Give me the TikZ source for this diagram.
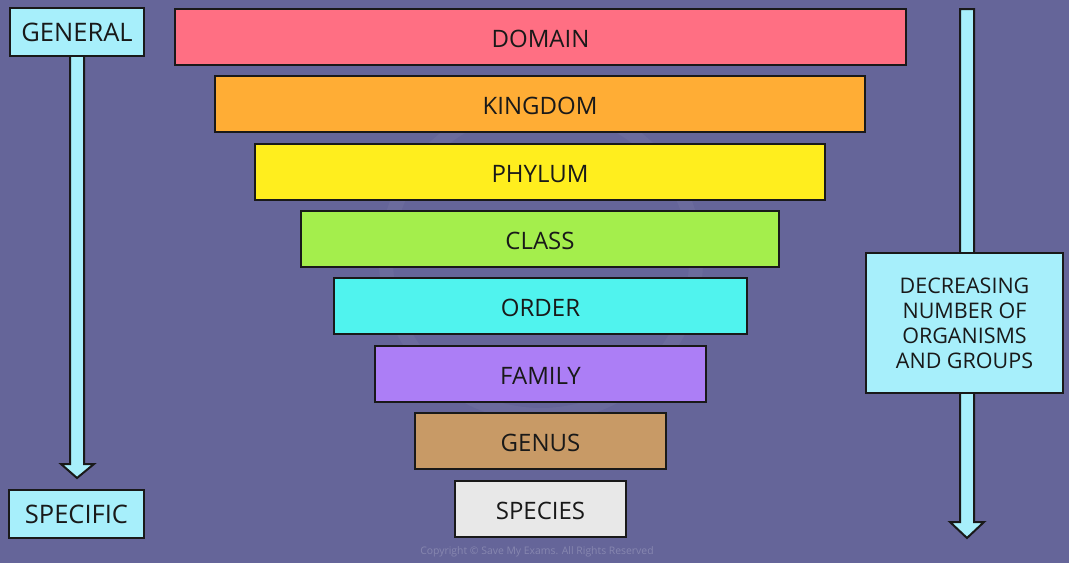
\documentclass[tikz,border=0pt]{standalone}
\usepackage{fontspec}
\setmainfont{Open Sans}
\usetikzlibrary{calc}
\definecolor{bgc}{RGB}{101,101,153}
\definecolor{lblue}{RGB}{167,239,251}
\definecolor{cdomain}{RGB}{255,111,131}
\definecolor{ckingdom}{RGB}{255,173,53}
\definecolor{cphylum}{RGB}{255,238,30}
\definecolor{cclass}{RGB}{164,238,76}
\definecolor{corder}{RGB}{80,243,238}
\definecolor{cfamily}{RGB}{172,126,246}
\definecolor{cgenus}{RGB}{200,154,102}
\definecolor{cspecies}{RGB}{232,232,232}
\definecolor{ink}{RGB}{25,25,25}
\tikzset{
  bar/.style={draw=ink, line width=2pt, minimum height=56pt, inner sep=0pt, text height=21pt, text depth=0pt, font=\fontsize{24}{26}\selectfont, text=ink},
  side/.style={draw=ink, line width=2pt, fill=lblue, inner sep=0pt, font=\fontsize{25.5}{27}\selectfont, text=ink},
  arr/.style={draw=ink, line width=2pt, fill=lblue, line join=miter}
}
\begin{document}
\begin{tikzpicture}[x=1pt,y=-1pt]
\fill[bgc] (0,0) rectangle (1069,563);
\useasboundingbox (0,0) rectangle (1069,563);
% faint watermark
\draw[white, opacity=0.04, line width=14pt] (541,260) circle (155);
% bars
\node[bar, fill=cdomain, minimum width=731pt] (domain) at (540.5,37) {DOMAIN};
\node[bar, fill=ckingdom, minimum width=650pt] (kingdom) at (540,104) {KINGDOM};
\node[bar, fill=cphylum, minimum width=570pt] (phylum) at (540,171.5) {PHYLUM};
\node[bar, fill=cclass, minimum width=478pt] (class) at (540,239) {CLASS};
\node[bar, fill=corder, minimum width=413pt] (order) at (540.5,306) {ORDER};
\node[bar, fill=cfamily, minimum width=331pt] (family) at (540.5,374) {FAMILY};
\node[bar, fill=cgenus, minimum width=251pt] (genus) at (540.5,441) {GENUS};
\node[bar, fill=cspecies, minimum width=171pt] (species) at (540.5,509) {SPECIES};
% left side
\node[side, minimum width=134pt, minimum height=48pt] (gen) at (77,32) {GENERAL};
\node[side, minimum width=135pt, minimum height=48pt] (spec) at (76.5,514) {SPECIFIC};
\draw[arr] ($(gen.south)+(-7,0)$) -- ($(gen.south)+(-7,407)$) -- ($(gen.south)+(-16,407)$)
  -- ($(spec.north)+(0.5,-11)$) -- ($(gen.south)+(17,407)$) -- ($(gen.south)+(7,407)$) -- ($(gen.south)+(7,0)$);
% right side
\coordinate (rtop) at (967,9);
\coordinate (rtip) at (967,538);
\draw[arr] ($(rtop)+(-7,0)$) -- ($(rtip)+(-7,-16)$) -- ($(rtip)+(-17,-16)$) -- (rtip)
  -- ($(rtip)+(17,-16)$) -- ($(rtip)+(7,-16)$) -- ($(rtop)+(7,0)$) -- cycle;
\node[side, minimum width=197pt, minimum height=140pt, align=center, font=\fontsize{21.5}{25}\selectfont] (dec) at (964.5,323)
  {DECREASING\\NUMBER OF\\ORGANISMS\\AND GROUPS};
% copyright
\node[text=white, opacity=0.22, font=\fontsize{10.4}{11}\selectfont] (copy) at (537,552) {Copyright © Save My Exams. All Rights Reserved};
\end{tikzpicture}
\end{document}
